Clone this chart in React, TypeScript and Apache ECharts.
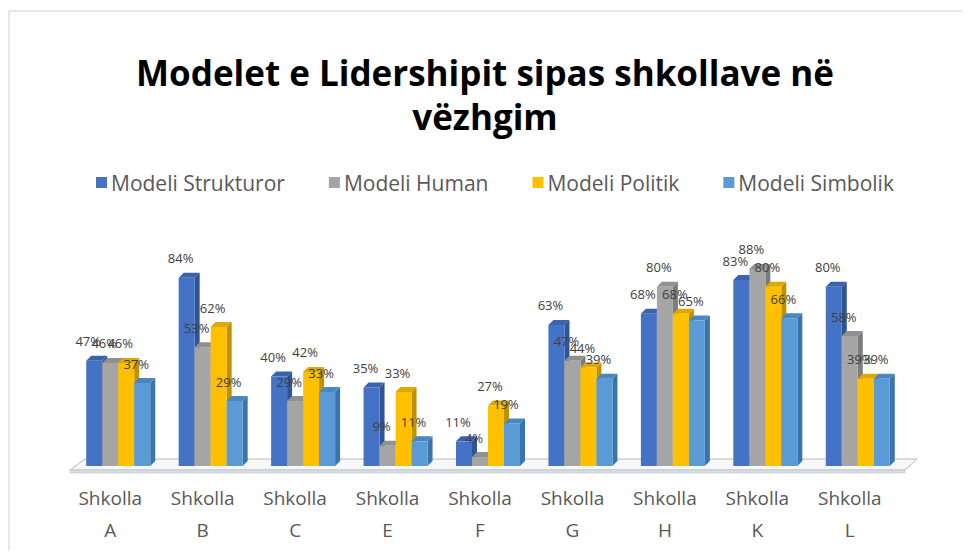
import React, { useEffect, useRef } from "react";
import * as echarts from "echarts";

const categories = ["Shkolla A", "Shkolla B", "Shkolla C", "Shkolla E", "Shkolla F", "Shkolla G", "Shkolla H", "Shkolla K", "Shkolla L"];
const seriesNames = ["Modeli Strukturor", "Modeli Human", "Modeli Politik", "Modeli Simbolik"];
const strukturor = [47, 84, 40, 35, 11, 63, 68, 83, 80];
const human = [46, 53, 29, 9, 4, 47, 80, 88, 58];
const politik = [46, 62, 42, 33, 27, 44, 68, 80, 39];
const simbolik = [37, 29, 33, 11, 19, 39, 65, 66, 39];
const seriesValues = [strukturor, human, politik, simbolik];

const frontColors = ["#4472C4", "#A5A5A5", "#FFC000", "#5B9BD5"];
const sideColors = ["#2F5597", "#7C7C7C", "#BF9000", "#3A74AD"];
const topColors = ["#3B63AD", "#909090", "#DDA800", "#4A86C0"];

const FONT = "'Open Sans', 'DejaVu Sans', sans-serif";
const BAR_W = 16;
const DEPTH = 5;
const GROUP_OFFSET = -24;

export default function App() {
  const ref = useRef<HTMLDivElement>(null);
  useEffect(() => {
    if (!ref.current) return;
    const chart = echarts.init(ref.current, null, { renderer: "svg" });

    const series = seriesValues.map((vals, si) => ({
      type: "custom",
      name: seriesNames[si],
      itemStyle: { color: frontColors[si] },
      data: vals.map((v, i) => [i, v]),
      encode: { x: 0, y: 1 },
      renderItem: (params: any, api: any) => {
        const c = api.value(0);
        const v = api.value(1);
        const base = api.coord([c, 0]);
        const top = api.coord([c, v]);
        const x0 = base[0] + GROUP_OFFSET + si * BAR_W;
        const x1 = x0 + BAR_W;
        const yb = base[1];
        const yt = top[1];
        const d = DEPTH;
        return {
          type: "group",
          children: [
            {
              type: "polygon",
              shape: { points: [[x1, yt], [x1 + d, yt - d], [x1 + d, yb - d], [x1, yb]] },
              style: { fill: sideColors[si] },
            },
            {
              type: "polygon",
              shape: { points: [[x0, yt], [x0 + d, yt - d], [x1 + d, yt - d], [x1, yt]] },
              style: { fill: topColors[si] },
            },
            {
              type: "rect",
              shape: { x: x0, y: yt, width: BAR_W, height: yb - yt },
              style: { fill: frontColors[si] },
            },
            {
              type: "text",
              x: x0 + BAR_W / 2 - 6,
              y: yt - d - 8,
              style: {
                text: v + "%",
                fill: "#404040",
                font: "13px " + FONT,
                align: "center",
                verticalAlign: "bottom",
              },
              z2: 100,
            },
          ],
        };
      },
    }));

    chart.setOption({
      animation: false,
      title: {
        text: "Modelet e Lidershipit sipas shkollave në\nvëzhgim",
        left: "center",
        top: 37,
        textStyle: {
          fontFamily: FONT,
          fontWeight: "bold",
          fontSize: 35,
          lineHeight: 44,
          color: "#000000",
        },
      },
      legend: {
        top: 159,
        left: 83,
        itemWidth: 11,
        itemHeight: 11,
        itemGap: 44,
        icon: "rect",
        textStyle: { fontFamily: FONT, fontSize: 21, color: "#595959", padding: [0, 0, 0, -1] },
        data: seriesNames,
      },
      grid: { left: 56, right: 66, top: 234, bottom: 85 },
      xAxis: {
        type: "category",
        data: categories,
        axisLine: { show: false },
        axisTick: { show: false },
        axisLabel: {
          margin: 16,
          fontFamily: FONT,
          fontSize: 19,
          lineHeight: 32,
          color: "#595959",
          formatter: (s: string) => s.replace(" ", "\n"),
        },
      },
      yAxis: { type: "value", min: 0, max: 100, show: false, splitLine: { show: false } },
      graphic: [
        { type: "line", shape: { x1: 1, y1: 3, x2: 954, y2: 3 }, style: { stroke: "#d0d0d0", lineWidth: 1 } },
        { type: "line", shape: { x1: 1, y1: 3, x2: 1, y2: 543 }, style: { stroke: "#d0d0d0", lineWidth: 1 } },
        {
          type: "polygon",
          z: -1,
          shape: { points: [[62, 462], [77, 451], [909, 451], [897, 462]] },
          style: { fill: "#f7f7f7", stroke: "#b8b8b8", lineWidth: 1 },
        },
        {
          type: "rect",
          z: -1,
          shape: { x: 62, y: 462, width: 835, height: 3 },
          style: { fill: "#d5dde8", stroke: "#b8b8b8", lineWidth: 0.5 },
        },
      ],
      series,
    } as any);
    return () => chart.dispose();
  }, []);
  return <div ref={ref} style={{ width: 954, height: 543 }} />;
}
